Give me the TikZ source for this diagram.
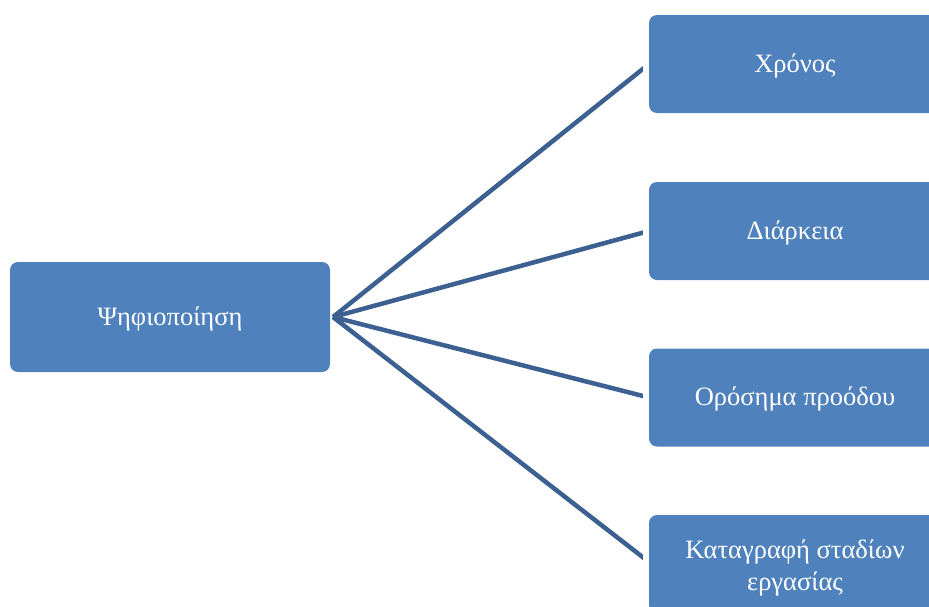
\documentclass[tikz,border=0pt]{standalone}
\usepackage{fontspec}
\setmainfont{Liberation Serif}
\definecolor{boxblue}{RGB}{79,129,189}
\definecolor{linkblue}{RGB}{60,96,145}
\begin{document}
\begin{tikzpicture}[x=1pt,y=-1pt,
  box/.style={fill=boxblue, rounded corners=8, text=white, align=center,
    font=\fontsize{26.5}{32}\selectfont, inner sep=0pt,
    text height=22, text depth=6},
  leaf/.style={box, minimum width=292, minimum height=98,
    preaction={draw=white, line width=12, rounded corners=8}},
  link/.style={draw=linkblue, line width=4.5}]
  \useasboundingbox (0,0) rectangle (929,606);
  \clip (0,0) rectangle (929,606);

  % root node and the point where the connectors fan out
  \node[box, minimum width=320, minimum height=110] (root) at (170,317) {Ψηφιοποίηση};
  \coordinate (hub) at (333,317);

  % connectors first, leaves drawn on top so their white halo trims the ends
  \coordinate (t1) at (649,64);
  \coordinate (t2) at (649,231);
  \coordinate (t3) at (649,397.5);
  \coordinate (t4) at (649,562);
  \foreach \t in {t1,t2,t3,t4} \draw[link] (hub) -- (\t);

  \node[leaf] (r1) at (795,64) {Χρόνος};
  \node[leaf] (r2) at (795,231) {Διάρκεια};
  \node[leaf] (r3) at (795,397.5) {Ορόσημα προόδου};
  \node[leaf, text height=58, text depth=6] (r4) at (795,564) {Καταγραφή σταδίων\\εργασίας};
\end{tikzpicture}
\end{document}
